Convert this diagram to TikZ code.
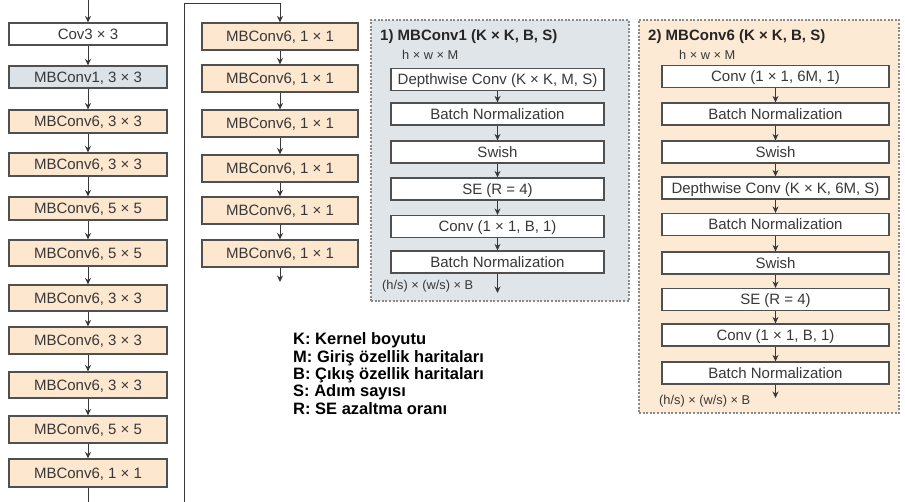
\documentclass[tikz,border=0pt]{standalone}
\usepackage{fontspec}
\setmainfont{Liberation Sans}
\usetikzlibrary{arrows.meta}
\definecolor{bluegray}{HTML}{DBE3E8}
\definecolor{peach}{HTML}{FDE7CF}
\definecolor{panelgray}{HTML}{DFE5E9}
\definecolor{panelpeach}{HTML}{FDEAD5}
\definecolor{edge}{HTML}{505050}
\definecolor{ink}{HTML}{383838}
\definecolor{dashc}{HTML}{8A8A8A}
\begin{document}
\begin{tikzpicture}[x=1pt,y=-1pt,
  blk/.style={draw=edge, line width=1.2pt, inner sep=0pt, text=ink,
    font=\fontsize{15}{15}\selectfont, text height=10.6pt, text depth=0pt},
  lbox/.style={blk, minimum width=158pt},
  mbox/.style={blk, minimum width=156pt, minimum height=27pt, fill=peach},
  abox/.style={blk, minimum width=213pt, minimum height=22pt, fill=white},
  bbox/.style={blk, minimum width=227pt, minimum height=22pt, fill=white},
  panel/.style={draw=dashc, line width=1.2pt, dash pattern=on 2pt off 1.6pt, inner sep=0pt},
  arr/.style={draw=ink, line width=1pt, -{Stealth[length=6.5pt,width=6pt]}},
  plain/.style={draw=ink, line width=1pt},
  ttl/.style={anchor=base west, inner sep=0pt, text=black!85, font=\bfseries\fontsize{15}{15}\selectfont},
  dim/.style={anchor=base west, inner sep=0pt, text=ink, font=\fontsize{12.8}{12.8}\selectfont},
  leg/.style={anchor=base west, inner sep=0pt, text=black, font=\bfseries\fontsize{16.5}{16.5}\selectfont}
]
\useasboundingbox[fill=white] (0,0) rectangle (905,502);

% panels
\node[panel, fill=panelgray, minimum width=258pt, minimum height=281pt] (P1) at (500,160.5) {};
\node[panel, fill=panelpeach, minimum width=260pt, minimum height=393pt] (P2) at (769,216.5) {};

% left column
\node[lbox, minimum height=22pt, fill=white] (L1) at (88,34) {Cov3 × 3};
\node[lbox, minimum height=22pt, fill=bluegray] (L2) at (88,77) {MBConv1, 3 × 3};
\node[lbox, minimum height=23pt, fill=peach] (L3) at (88,121.5) {MBConv6, 3 × 3};
\node[lbox, minimum height=23pt, fill=peach] (L4) at (88,164.5) {MBConv6, 3 × 3};
\node[lbox, minimum height=23pt, fill=peach] (L5) at (88,208.5) {MBConv6, 5 × 5};
\node[lbox, minimum height=26pt, fill=peach] (L6) at (88,253) {MBConv6, 5 × 5};
\node[lbox, minimum height=26pt, fill=peach] (L7) at (88,298) {MBConv6, 3 × 3};
\node[lbox, minimum height=27pt, fill=peach] (L8) at (88,340.5) {MBConv6, 3 × 3};
\node[lbox, minimum height=26pt, fill=peach] (L9) at (88,385) {MBConv6, 3 × 3};
\node[lbox, minimum height=27pt, fill=peach] (L10) at (88,429.5) {MBConv6, 5 × 5};
\node[lbox, minimum height=28pt, fill=peach] (L11) at (88,473) {MBConv6, 1 × 1};

\coordinate (Ltop) at (88,0);
\coordinate (Lbot) at (88,502);
\draw[arr] (Ltop) -- (L1.north);
\foreach \i [evaluate=\i as \j using int(\i+1)] in {1,...,10}
  \draw[arr] (L\i.south) -- (L\j.north);
\draw[plain] (L11.south) -- (Lbot);

% middle column
\node[mbox] (M1) at (280,36.5) {MBConv6, 1 × 1};
\node[mbox] (M2) at (280,78.5) {MBConv6, 1 × 1};
\node[mbox] (M3) at (280,123.5) {MBConv6, 1 × 1};
\node[mbox] (M4) at (280,168.5) {MBConv6, 1 × 1};
\node[mbox] (M5) at (280,210.5) {MBConv6, 1 × 1};
\node[mbox] (M6) at (280,253.5) {MBConv6, 1 × 1};

\coordinate (Rbot) at (184,502);
\coordinate (Rtop) at (184,4);
\coordinate (Mout) at (280,282);
\draw[arr] (Rbot) -- (Rtop) -| (M1.north);
\foreach \i [evaluate=\i as \j using int(\i+1)] in {1,...,5}
  \draw[arr] (M\i.south) -- (M\j.north);
\draw[arr] (M6.south) -- (Mout);

% panel 1
\node[ttl] (T1) at (380,40.5) {1) MBConv1 (K × K, B, S)};
\node[dim] (I1) at (402,59.5) {h × w × M};
\node[abox] (A1) at (497.5,79.5) {Depthwise Conv (K × K, M, S)};
\node[abox] (A2) at (497.5,114) {Batch Normalization};
\node[abox] (A3) at (497.5,152) {Swish};
\node[abox] (A4) at (497.5,189) {SE (R = 4)};
\node[abox] (A5) at (497.5,226.5) {Conv (1 × 1, B, 1)};
\node[abox] (A6) at (497.5,262) {Batch Normalization};
\node[dim] (O1) at (382,289.5) {(h/s) × (w/s) × B};
\coordinate (Aout) at (497.5,293);
\foreach \i [evaluate=\i as \j using int(\i+1)] in {1,...,5}
  \draw[arr] (A\i.south) -- (A\j.north);
\draw[arr] (A6.south) -- (Aout);

% panel 2
\node[ttl] (T2) at (648,40.5) {2) MBConv6 (K × K, B, S)};
\node[dim] (I2) at (679,59.5) {h × w × M};
\node[bbox] (B1) at (775.5,76.5) {Conv (1 × 1, 6M, 1)};
\node[bbox] (B2) at (775.5,114) {Batch Normalization};
\node[bbox] (B3) at (775.5,152) {Swish};
\node[bbox] (B4) at (775.5,188) {Depthwise Conv (K × K, 6M, S)};
\node[bbox] (B5) at (775.5,224.5) {Batch Normalization};
\node[bbox] (B6) at (775.5,263) {Swish};
\node[bbox] (B7) at (775.5,299.5) {SE (R = 4)};
\node[bbox] (B8) at (775.5,335) {Conv (1 × 1, B, 1)};
\node[bbox] (B9) at (775.5,373) {Batch Normalization};
\node[dim] (O2) at (659,405) {(h/s) × (w/s) × B};
\coordinate (Bout) at (775.5,398);
\foreach \i [evaluate=\i as \j using int(\i+1)] in {1,...,8}
  \draw[arr] (B\i.south) -- (B\j.north);
\draw[arr] (B9.south) -- (Bout);

% legend
\node[leg] (K1) at (293,345) {K: Kernel boyutu};
\node[leg] (K2) at (293,363) {M: Giriş özellik haritaları};
\node[leg] (K3) at (293,380) {B: Çıkış özellik haritaları};
\node[leg] (K4) at (293,397) {S: Adım sayısı};
\node[leg] (K5) at (293,415) {R: SE azaltma oranı};
\end{tikzpicture}
\end{document}
